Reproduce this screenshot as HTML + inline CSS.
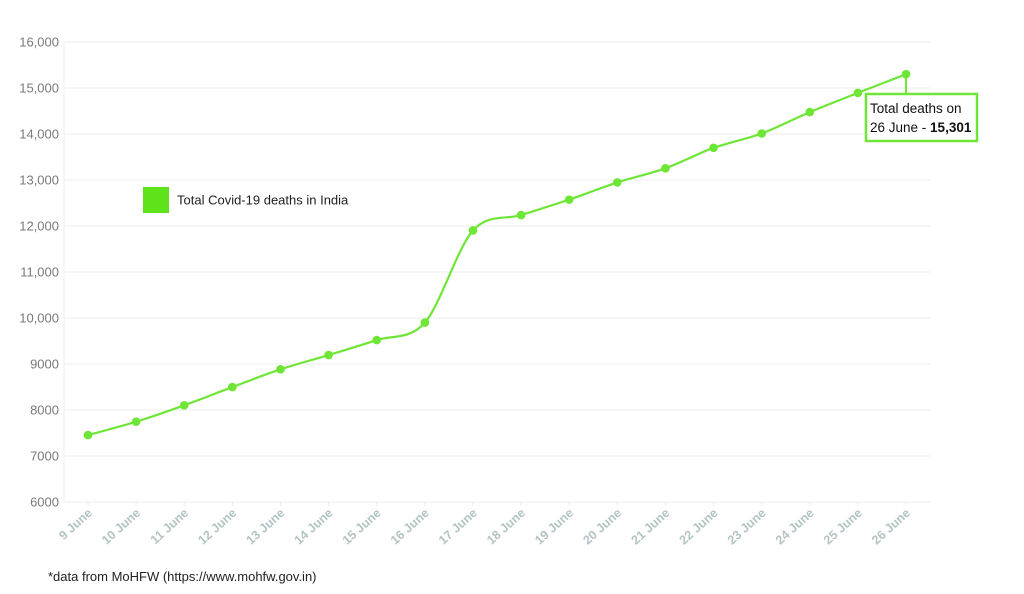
<!DOCTYPE html>
<html><head><meta charset="utf-8"><style>
html,body{margin:0;padding:0;background:#fff;width:1024px;height:594px;overflow:hidden}
svg{display:block;font-family:"Liberation Sans",sans-serif}
</style></head><body>
<svg id="s" width="1024" height="594" viewBox="0 0 1024 594">
<g id="grid" stroke="#ececec" stroke-width="1"></g>
<line x1="64" y1="42" x2="64" y2="502" stroke="#ececec"/>
<g id="ylab" font-size="13" fill="#7a7a7a" text-anchor="end"></g>
<g id="xlab" font-size="12.5" font-weight="bold" fill="#b3c4c4" text-anchor="end"></g>
<rect x="143" y="187" width="26" height="26" fill="#5ee31b"/>
<text x="177" y="204.5" font-size="13" fill="#222">Total Covid-19 deaths in India</text>
<path id="line" fill="none" stroke="#6ee636" stroke-width="2.2"/>
<g id="dots" fill="#6ee636"></g>
<line x1="906" y1="73" x2="906" y2="94" stroke="#6ee636" stroke-width="2"/>
<rect x="866" y="94" width="111" height="47" fill="#fff" stroke="#6ee636" stroke-width="2.5"/>
<text x="870" y="113" font-size="13.5" fill="#111">Total deaths on</text>
<text x="870" y="132" font-size="13.5" fill="#111">26 June - <tspan font-weight="bold">15,301</tspan></text>
<text x="48" y="581" font-size="13" fill="#222">*data from MoHFW (https://www.mohfw.gov.in)</text>
</svg>
<script>
var NS="http://www.w3.org/2000/svg";
function el(t,a,p,txt){var e=document.createElementNS(NS,t);for(var k in a)e.setAttribute(k,a[k]);if(txt)e.textContent=txt;document.getElementById(p).appendChild(e);return e;}
function Y(v){return 502-(v-6000)*0.046;}
var yl=["6000","7000","8000","9000","10,000","11,000","12,000","13,000","14,000","15,000","16,000"];
for(var i=0;i<=10;i++){var y=Y(6000+i*1000);el("line",{x1:64,y1:y,x2:930,y2:y},"grid");el("text",{x:59,y:y+4.5},"ylab",yl[i]);}
var d=[7455,7745,8102,8498,8884,9195,9520,9900,11903,12237,12573,12948,13254,13699,14011,14476,14894,15301];
var P=[];
for(var i=0;i<18;i++){var x=88+i*48.12;P.push([x,Y(d[i])]);
 el("circle",{cx:x,cy:Y(d[i]),r:4.3},"dots");
 el("line",{x1:x,y1:502,x2:x,y2:506,stroke:"#ececec"},"grid");
 el("text",{x:x+5,y:514,transform:"rotate(-42 "+(x+5)+" 514)"},"xlab",(9+i)+" June");}
var s="M"+P[0][0]+","+P[0][1];
for(var i=0;i<17;i++){var p0=P[Math.max(i-1,0)],p1=P[i],p2=P[i+1],p3=P[Math.min(i+2,17)];
 var t=0.16;
 s+=" C"+(p1[0]+(p2[0]-p0[0])*t)+","+(p1[1]+(p2[1]-p0[1])*t)+" "+(p2[0]-(p3[0]-p1[0])*t)+","+(p2[1]-(p3[1]-p1[1])*t)+" "+p2[0]+","+p2[1];}
document.getElementById("line").setAttribute("d",s);
</script>
</body></html>
